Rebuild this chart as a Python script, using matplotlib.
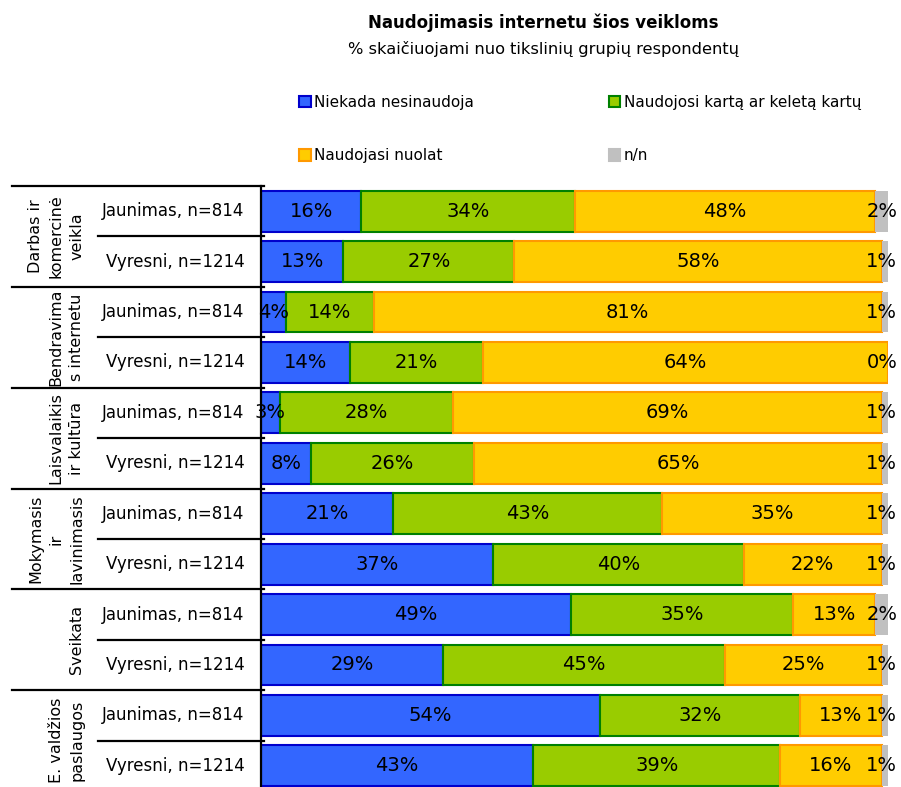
import matplotlib.pyplot as plt
from matplotlib.patches import Patch
import numpy as np

# data
groups = ["Darbas ir\nkomercinė\nveikla", "Bendravima\ns internetu", "Laisvalaikis\nir kultūra",
          "Mokymasis\nir\nlavinimasis", "Sveikata", "E. valdžios\npaslaugos"]
rows = ["Jaunimas, n=814", "Vyresni, n=1214"] * 6
niekada = [16, 13, 4, 14, 3, 8, 21, 37, 49, 29, 54, 43]
karta = [34, 27, 14, 21, 28, 26, 43, 40, 35, 45, 32, 39]
nuolat = [48, 58, 81, 64, 69, 65, 35, 22, 13, 25, 13, 16]
nn = [2, 1, 1, 0, 1, 1, 1, 1, 2, 1, 1, 1]

series = [niekada, karta, nuolat, nn]
names = ["Niekada nesinaudoja", "Naudojosi kartą ar keletą kartų", "Naudojasi nuolat", "n/n"]
fills = ["#3366FF", "#99CC00", "#FFCC00", "#C0C0C0"]
edges = ["#0000CC", "#008000", "#FF9900", "#C0C0C0"]

vals = np.array(series, dtype=float)
shares = vals / vals.sum(axis=0) * 100  # 100% stacked, like the original

fig = plt.figure(figsize=(9.01, 7.87), dpi=100)
ax = fig.add_axes([261 / 901, 1 - 791 / 787, 627 / 901, 605 / 787])

y = np.arange(len(rows))
left = np.zeros(len(rows))
for i in range(4):
    ax.barh(y, shares[i], left=left, height=0.81, color=fills[i], edgecolor=edges[i],
            linewidth=1.5 if i < 3 else 0)
    for j in range(len(rows)):
        # keep the label of an empty last segment inside the picture
        xc = min(left[j] + shares[i][j] / 2, 99)
        ax.text(xc, y[j], f"{int(vals[i][j])}%", ha="center", va="center", fontsize=14)
    left += shares[i]

ax.set_xlim(0, 100)
ax.set_ylim(len(rows) - 0.5, -0.5)
ax.set_xticks([])
ax.set_yticks([])
for s in ["top", "right", "bottom"]:
    ax.spines[s].set_visible(False)
ax.spines["left"].set_linewidth(1.6)

tr = ax.get_yaxis_transform()
for j, lab in enumerate(rows):
    ax.text(-0.026, j, lab, transform=tr, ha="right", va="center", fontsize=12)
    if j % 2 == 1:
        ax.plot([-0.26, 0.005], [j - 0.5, j - 0.5], transform=tr, color="black",
                lw=1.6, clip_on=False)
for g, lab in enumerate(groups):
    ax.plot([-0.397, 0.005], [2 * g - 0.5, 2 * g - 0.5], transform=tr, color="black",
            lw=1.6, clip_on=False)
    ax.text(-0.282, 2 * g + 0.5, lab, transform=tr, rotation=90, ha="right", va="center",
            fontsize=11.5, multialignment="center", linespacing=1.45)

fig.text(0.603, 0.971, "Naudojimasis internetu šios veikloms", ha="center", va="center",
         fontsize=12, fontweight="bold")
fig.text(0.603, 0.938, "% skaičiuojami nuo tikslinių grupių respondentų", ha="center",
         va="center", fontsize=11.7)

handles = [Patch(facecolor=fills[i], edgecolor=edges[i], linewidth=1.5) for i in range(4)]
order = [0, 2, 1, 3]
fig.legend([handles[i] for i in order], [names[i] for i in order], loc="upper left",
           bbox_to_anchor=(0.332, 0.879), ncol=2, frameon=False, fontsize=11,
           handlelength=0.75, handleheight=0.75, handletextpad=0.25, borderpad=0,
           borderaxespad=0, labelspacing=2.5, columnspacing=8.8)

fig.savefig("out.png", dpi=100)
